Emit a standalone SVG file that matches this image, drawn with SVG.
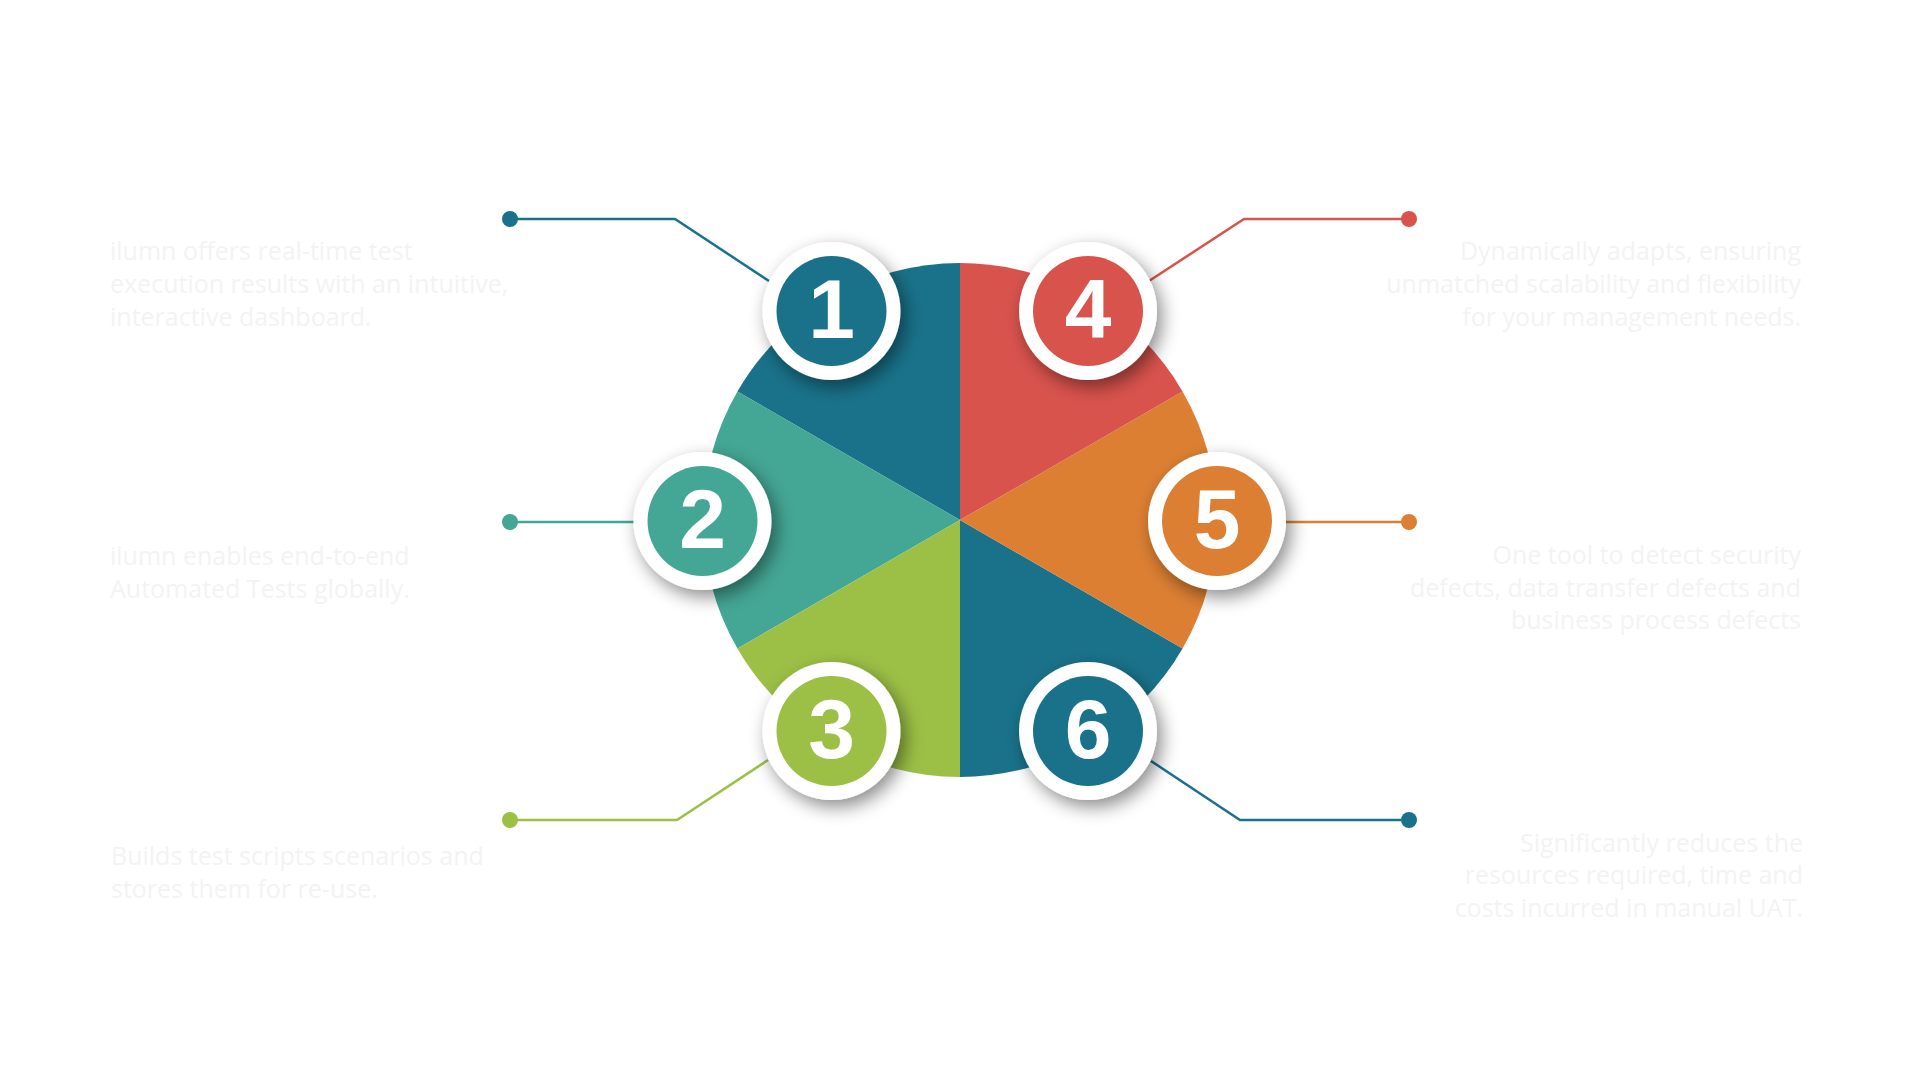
<svg xmlns="http://www.w3.org/2000/svg" width="1920" height="1080" viewBox="0 0 1920 1080">
<defs>
<filter id="sh" x="-50%" y="-50%" width="200%" height="200%">
<feDropShadow dx="5" dy="7" stdDeviation="9" flood-color="#000" flood-opacity="0.45"/>
</filter>
</defs>
<style>
.teal{fill:#19728A}.red{fill:#D9534D}.orange{fill:#DC7F33}.green{fill:#44A694}.lime{fill:#9CC046}
.ring{fill:#FFFFFF}
.num{font-family:"Liberation Sans",Arial,sans-serif;font-weight:bold;font-size:84px;fill:#FFFFFF;text-anchor:middle}
.desc{font-family:"Open Sans","Noto Sans",sans-serif;font-size:25px;fill:#F3F3F3}
.r{text-anchor:end}
.ln{fill:none;stroke-width:2.5}
</style>
<rect width="1920" height="1080" fill="#FFFFFF"/>
<g id="pie">
<path class="teal" d="M960,520 L960,263 A257,257 0 0 0 737.43,391.5 Z"/>
<path class="green" d="M960,520 L737.43,391.5 A257,257 0 0 0 737.43,648.5 Z"/>
<path class="lime" d="M960,520 L737.43,648.5 A257,257 0 0 0 960,777 Z"/>
<path class="teal" d="M960,520 L960,777 A257,257 0 0 0 1182.57,648.5 Z"/>
<path class="orange" d="M960,520 L1182.57,648.5 A257,257 0 0 0 1182.57,391.5 Z"/>
<path class="red" d="M960,520 L1182.57,391.5 A257,257 0 0 0 960,263 Z"/>
</g>
<g id="connectors">
<polyline class="ln" stroke="#19728A" points="510,219 675,219 769,281"/>
<circle class="teal" cx="510" cy="219" r="8"/>
<polyline class="ln" stroke="#44A694" points="510,522 634,522"/>
<circle class="green" cx="510" cy="522" r="8"/>
<polyline class="ln" stroke="#9CC046" points="510,820 677,820 768,760"/>
<circle class="lime" cx="510" cy="820" r="8"/>
<polyline class="ln" stroke="#D9534D" points="1409,219 1244,219 1149,281"/>
<circle class="red" cx="1409" cy="219" r="8"/>
<polyline class="ln" stroke="#DC7F33" points="1409,522 1286,522"/>
<circle class="orange" cx="1409" cy="522" r="8"/>
<polyline class="ln" stroke="#19728A" points="1409,820 1240,820 1151,761"/>
<circle class="teal" cx="1409" cy="820" r="8"/>
</g>
<g id="node1">
<circle class="ring" cx="831.5" cy="311" r="69" filter="url(#sh)"/>
<circle class="teal" cx="831.5" cy="311" r="55"/>
<text class="num" x="831.5" y="338">1</text>
<text class="desc" x="110" y="260">ilumn offers real-time test</text>
<text class="desc" x="110" y="293">execution results with an intuitive,</text>
<text class="desc" x="110" y="326">interactive dashboard.</text>
</g>
<g id="node2">
<circle class="ring" cx="702.5" cy="521" r="69" filter="url(#sh)"/>
<circle class="green" cx="702.5" cy="521" r="55"/>
<text class="num" x="702.5" y="548">2</text>
<text class="desc" x="110" y="565">ilumn enables end-to-end</text>
<text class="desc" x="110" y="598">Automated Tests globally.</text>
</g>
<g id="node3">
<circle class="ring" cx="831.5" cy="731" r="69" filter="url(#sh)"/>
<circle class="lime" cx="831.5" cy="731" r="55"/>
<text class="num" x="831.5" y="758">3</text>
<text class="desc" x="111" y="865">Builds test scripts scenarios and</text>
<text class="desc" x="111" y="898">stores them for re-use.</text>
</g>
<g id="node4">
<circle class="ring" cx="1088" cy="311" r="69" filter="url(#sh)"/>
<circle class="red" cx="1088" cy="311" r="55"/>
<text class="num" x="1088" y="338">4</text>
<text class="desc r" x="1801" y="260">Dynamically adapts, ensuring</text>
<text class="desc r" x="1801" y="293">unmatched scalability and flexibility</text>
<text class="desc r" x="1801" y="326">for your management needs.</text>
</g>
<g id="node5">
<circle class="ring" cx="1217" cy="521" r="69" filter="url(#sh)"/>
<circle class="orange" cx="1217" cy="521" r="55"/>
<text class="num" x="1217" y="548">5</text>
<text class="desc r" x="1801" y="564">One tool to detect security</text>
<text class="desc r" x="1801" y="597">defects, data transfer defects and</text>
<text class="desc r" x="1801" y="629">business process defects</text>
</g>
<g id="node6">
<circle class="ring" cx="1088" cy="731" r="69" filter="url(#sh)"/>
<circle class="teal" cx="1088" cy="731" r="55"/>
<text class="num" x="1088" y="758">6</text>
<text class="desc r" x="1803" y="852">Significantly reduces the</text>
<text class="desc r" x="1803" y="884">resources required, time and</text>
<text class="desc r" x="1803" y="917">costs incurred in manual UAT.</text>
</g>
</svg>
